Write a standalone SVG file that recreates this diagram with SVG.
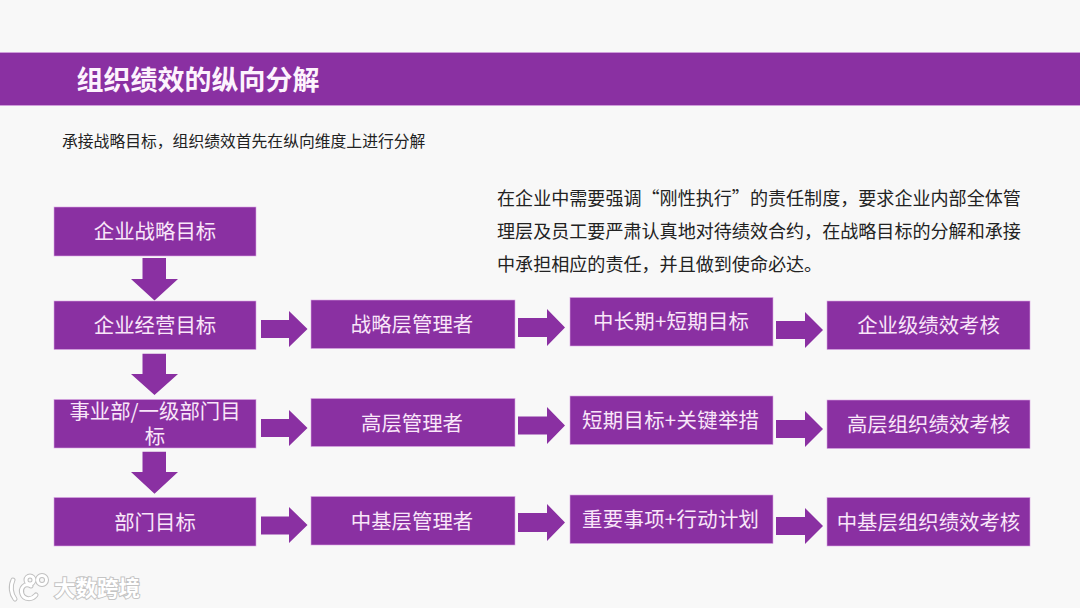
<svg xmlns="http://www.w3.org/2000/svg" width="1080" height="608" viewBox="0 0 1080 608">
<defs>
<style>
text{font-family:"Noto Sans CJK SC","Liberation Sans",sans-serif}
.box{fill:#8a30a2;stroke:#d9a6e3;stroke-width:.6}
.lbl{fill:#f9e6f9;font-size:20.4px;text-anchor:middle;dominant-baseline:central}
.arrow{fill:#8a30a2}
.para{fill:#222;font-size:18.07px}
.wm{fill:#fff;stroke:#c4c4c4;stroke-width:2;paint-order:stroke}
.logo-o{fill:none;stroke:#c0c0c0;stroke-width:5;stroke-linecap:round}
.logo-i{fill:none;stroke:#fff;stroke-width:3;stroke-linecap:round}
</style>
<g id="logo">
<path d="M13 580C10 586 11 594 15 599"/>
<path d="M31 586C24 582 20 589 22 594C24 600 32 600 36 595"/>
<circle cx="30" cy="580" r="4"/><circle cx="42" cy="580" r="4.500"/>
</g>
</defs>
<rect width="1080" height="608" fill="#f8f8f8"/>
<g id="header">
<rect x="-1" y="52.500" width="1082" height="53" class="box"/>
<text x="76.500" y="89.500" font-size="27" font-weight="700" fill="#fdf3fd">组织绩效的纵向分解</text>
</g>
<text id="subtitle" x="62" y="147" font-size="15.800" fill="#222">承接战略目标，组织绩效首先在纵向维度上进行分解</text>
<g id="note" class="para">
<text x="497" y="204.500">在企业中需要强调“刚性执行”的责任制度，要求企业内部全体管</text>
<text x="497" y="237.500">理层及员工要严肃认真地对待绩效合约，在战略目标的分解和承接</text>
<text x="497" y="270.500">中承担相应的责任，并且做到使命必达。</text>
</g>
<g id="connectors" class="arrow">
<polygon points="142.500,258 166,258 166,279 178,279 154.500,300.500 131,279 142.500,279"/>
<polygon points="142.500,353.700 166,353.700 166,374 178,374 154.500,395 131,374 142.500,374"/>
<polygon points="142.500,451.700 166,451.700 166,472 178,472 154.500,493.700 131,472 142.500,472"/>
<polygon points="261,320 289,320 289,311 307.500,329 289,347 289,338 261,338"/>
<polygon points="261,419 289,419 289,410 307.500,428 289,446 289,437 261,437"/>
<polygon points="261,516.500 289,516.500 289,507 307.500,525 289,543 289,534.500 261,534.500"/>
<polygon points="518,318 547,318 547,309 565,327.500 547,346 547,337 518,337"/>
<polygon points="518,416.500 547,416.500 547,407 565,425.500 547,444 547,434.500 518,434.500"/>
<polygon points="518,513 547,513 547,504 565,522.500 547,541 547,532 518,532"/>
<polygon points="776,321 805,321 805,312 823,330 805,348 805,339 776,339"/>
<polygon points="776,420 805,420 805,411 823,429 805,447 805,438 776,438"/>
<polygon points="776,517 805,517 805,508 823,526 805,544 805,535 776,535"/>
</g>
<g id="n1"><rect class="box" x="54" y="207" width="202" height="49"/><text class="lbl" x="155" y="230">企业战略目标</text></g>
<g id="n2"><rect class="box" x="54" y="301" width="202" height="48.500"/><text class="lbl" x="155" y="324">企业经营目标</text></g>
<g id="n3"><rect class="box" x="54" y="399.500" width="202" height="48.500"/><text class="lbl" x="155" y="410">事业部/一级部门目<tspan x="155" dy="25">标</tspan></text></g>
<g id="n4"><rect class="box" x="54" y="497.500" width="202" height="48.500"/><text class="lbl" x="155" y="521">部门目标</text></g>
<g id="n5"><rect class="box" x="311" y="300" width="204" height="48.500"/><text class="lbl" x="412" y="323">战略层管理者</text></g>
<g id="n6"><rect class="box" x="311" y="398.500" width="204" height="48"/><text class="lbl" x="412" y="422">高层管理者</text></g>
<g id="n7"><rect class="box" x="311" y="496.500" width="204" height="48.500"/><text class="lbl" x="412" y="520">中基层管理者</text></g>
<g id="n8"><rect class="box" x="570" y="297.500" width="203" height="48.500"/><text class="lbl" x="671" y="320" textLength="156" lengthAdjust="spacing">中长期+短期目标</text></g>
<g id="n9"><rect class="box" x="570" y="396" width="203" height="48.500"/><text class="lbl" x="670.500" y="419" textLength="177" lengthAdjust="spacing">短期目标+关键举措</text></g>
<g id="n10"><rect class="box" x="570" y="495" width="203" height="48.500"/><text class="lbl" x="670.500" y="518" textLength="177" lengthAdjust="spacing">重要事项+行动计划</text></g>
<g id="n11"><rect class="box" x="827" y="301" width="203" height="48.500"/><text class="lbl" x="928.500" y="324">企业级绩效考核</text></g>
<g id="n12"><rect class="box" x="827" y="400" width="203" height="48.500"/><text class="lbl" x="928.500" y="423">高层组织绩效考核</text></g>
<g id="n13"><rect class="box" x="827" y="497.500" width="203" height="48.500"/><text class="lbl" x="928.500" y="521">中基层组织绩效考核</text></g>
<g id="watermark">
<use href="#logo" class="logo-o"/>
<use href="#logo" class="logo-i"/>
<text class="wm" x="54" y="596" font-size="21.500" font-weight="700">大数跨境</text>
</g>
</svg>
